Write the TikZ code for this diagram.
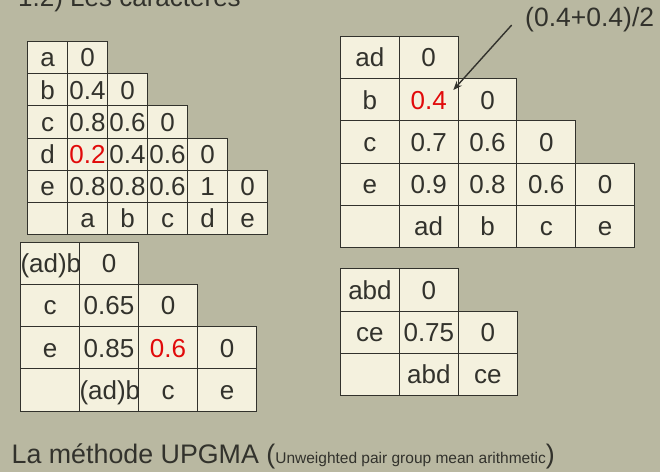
\documentclass[tikz,border=0pt]{standalone}
\usepackage{fontspec}
\setmainfont{Liberation Sans}
\usetikzlibrary{arrows.meta}
\definecolor{bgc}{RGB}{185,184,161}
\definecolor{cellc}{RGB}{244,241,222}
\definecolor{inkc}{RGB}{50,50,44}
\definecolor{redv}{RGB}{225,10,10}
\newcommand\redc[1]{\textcolor{redv}{#1}}
\tikzset{
  cellbox/.style={draw=inkc, fill=cellc, line width=1pt, inner sep=0pt, anchor=north west,
    text=inkc, font=\fontsize{26}{30}\selectfont, text height=18.7pt, text depth=0pt},
}
\begin{document}
\begin{tikzpicture}[x=1pt,y=-1pt]
\fill[bgc] (0,0) rectangle (660,472);
\useasboundingbox (0,0) rectangle (660,472);
% title (cut at top)
\node[anchor=base west, inner sep=0pt, text=inkc, font=\fontsize{26}{30}\selectfont] (title) at (18,6) {1.2) Les caractères};
% table 1
\foreach \row [count=\i] in {{a,0},{b,0.4,0},{c,0.8,0.6,0},{d,\redc{0.2},0.4,0.6,0},{e,0.8,0.8,0.6,1,0},{,a,b,c,d,e}}{
  \foreach \cell [count=\j] in \row {
    \node[cellbox, minimum width=40pt, minimum height=32.2pt] (ta-\i-\j) at ({27+(\j-1)*40},{41+(\i-1)*32.2}) {\cell};
  }
}
% table 2
\foreach \row [count=\i] in {{ad,0},{b,\redc{0.4},0},{c,0.7,0.6,0},{e,0.9,0.8,0.6,0},{,ad,b,c,e}}{
  \foreach \cell [count=\j] in \row {
    \node[cellbox, minimum width=58.8pt, minimum height=42.3pt] (tb-\i-\j) at ({340+(\j-1)*58.8},{35.7+(\i-1)*42.3}) {\cell};
  }
}
% table 3
\foreach \row [count=\i] in {{(ad)b,0},{c,0.65,0},{e,0.85,\redc{0.6},0},{,(ad)b,c,e}}{
  \foreach \cell [count=\j] in \row {
    \node[cellbox, minimum width=59pt, minimum height=42.2pt] (tc-\i-\j) at ({20+(\j-1)*59},{241.7+(\i-1)*42.2}) {\cell};
  }
}
% table 4
\foreach \row [count=\i] in {{abd,0},{ce,0.75,0},{,abd,ce}}{
  \foreach \cell [count=\j] in \row {
    \node[cellbox, minimum width=58.9pt, minimum height=42.3pt] (td-\i-\j) at ({340+(\j-1)*58.9},{268.3+(\i-1)*42.3}) {\cell};
  }
}
% annotation
\node[anchor=base west, inner sep=0pt, text=inkc, font=\fontsize{26.5}{30}\selectfont] (lbl) at (525,26) {(0.4+0.4)/2};
\coordinate (arrS) at (511.7,25);
\coordinate (arrT) at (453.3,90);
\draw[inkc, line width=1.4pt, -{Stealth[length=9pt,width=7pt]}] (arrS) -- (arrT);
% bottom caption
\node[anchor=base west, inner sep=0pt, text=inkc] (cap) at (11.5,463)
  {\fontsize{26.8}{30}\selectfont La méthode UPGMA (\fontsize{15.5}{18}\selectfont Unweighted pair group mean arithmetic\fontsize{26.8}{30}\selectfont)};
\end{tikzpicture}
\end{document}
